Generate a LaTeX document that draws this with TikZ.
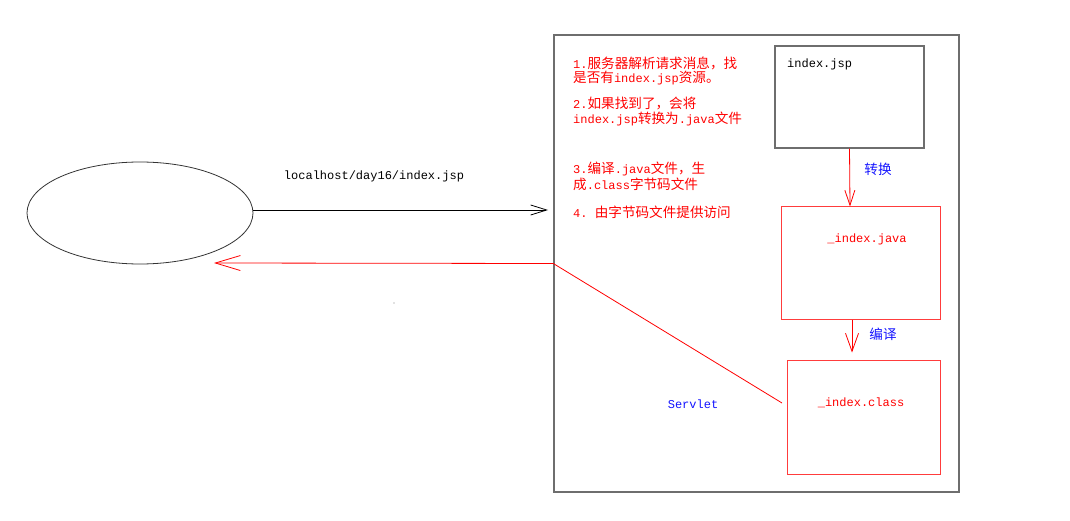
\documentclass[tikz,border=0pt]{standalone}
\usepackage{fontspec}
\setmainfont{Liberation Mono}
\newfontfamily\cjk{Noto Sans CJK SC}
\usetikzlibrary{arrows.meta,shapes.geometric}
\definecolor{rd}{RGB}{255,0,0}
\definecolor{lrd}{RGB}{255,60,60}
\definecolor{bl}{RGB}{20,20,255}
\definecolor{gr}{RGB}{110,110,110}
\newcommand{\zh}[1]{{\cjk\fontsize{13.6}{14}\selectfont #1}}
\begin{document}
\begin{tikzpicture}[x=1pt,y=-1pt,
  lat/.style={font=\fontsize{12}{14}\selectfont},
  rtxt/.style={lat,text=rd,anchor=west,inner sep=0pt},
  btxt/.style={lat,text=bl,inner sep=0pt},
  ktxt/.style={lat,text=black,inner sep=0pt},
  rbox/.style={draw=lrd,line width=1pt,minimum width=#1},
  redline/.style={draw=rd,line width=0.8pt},
  blkarrow/.style={draw=black,line width=0.8pt,-{Straight Barb[length=16pt,width=10pt,line width=0.8pt]}},
  redarrow/.style={draw=rd,line width=0.8pt,-{Straight Barb[length=#1,line width=0.8pt]}}
]
\useasboundingbox (0,0) rectangle (1070,521);

% browser
\node[ellipse,draw=black!80,line width=0.8pt,minimum width=226pt,minimum height=102pt,inner sep=0pt] (browser) at (140,213) {};

% server
\node[draw=gr,line width=1.4pt,minimum width=405pt,minimum height=457pt,inner sep=0pt] (server) at (756.5,263.5) {};

% boxes
\node[draw=gr,line width=1.2pt,minimum width=149pt,minimum height=102pt,inner sep=0pt] (jsp) at (849.5,97) {};
\node[ktxt,anchor=west] (jsplbl) at (787,64) {index.jsp};
\node[draw=lrd,line width=1pt,minimum width=159pt,minimum height=112pt,inner sep=0pt] (java) at (860.5,263) {};
\node[lat,text=rd,inner sep=0pt] (javalbl) at (867,239) {\_index.java};
\node[draw=lrd,line width=1pt,minimum width=153pt,minimum height=114pt,inner sep=0pt] (class) at (863.5,417) {};
\node[lat,text=rd,inner sep=0pt] (classlbl) at (861,403) {\_index.class};

% request
\node[ktxt] (url) at (374,176) {localhost/day16/index.jsp};
\coordinate (reqtip) at (548,210);
\draw[blkarrow] ([yshift=3pt]browser.east) -- (reqtip);

% conversion arrows
\coordinate (ax1) at (850,0);
\coordinate (ax2) at (852,0);
\draw[redarrow={15pt,width=10pt}] (jsp.south) -- (java.north -| ax1);
\node[btxt] (zh) at (878,169) {\zh{转换}};
\draw[redarrow={18pt,width=13pt}] (java.south -| ax2) -- ([yshift=7pt]class.north -| ax2);
\node[btxt] (by) at (883,334) {\zh{编译}};

% response
\coordinate (sv) at (782,403);
\coordinate (back) at (214,263);
\draw[redline,-{Straight Barb[length=25pt,width=15pt,line width=0.8pt]}] (sv) -- (server.west) -- (back);
\node[btxt] (servlet) at (693,404) {Servlet};

% steps
\node[rtxt] (s1) at (573,63) {1.\zh{服务器解析请求消息，找}};
\node[rtxt] (s1b) at (573,78) {\zh{是否有}index.jsp\zh{资源。}};
\node[rtxt] (s2) at (573,104) {2.\zh{如果找到了，会将}};
\node[rtxt] (s2b) at (573,119) {index.jsp\zh{转换为}.java\zh{文件}};
\node[rtxt] (s3) at (573,169) {3.\zh{编译}.java\zh{文件，生}};
\node[rtxt] (s3b) at (573,184) {\zh{成}.class\zh{字节码文件}};
\node[rtxt] (s4) at (573,212) {4.\ \zh{由字节码文件提供访问}};

\fill[gray] (394,303) circle (0.6);
\end{tikzpicture}
\end{document}
